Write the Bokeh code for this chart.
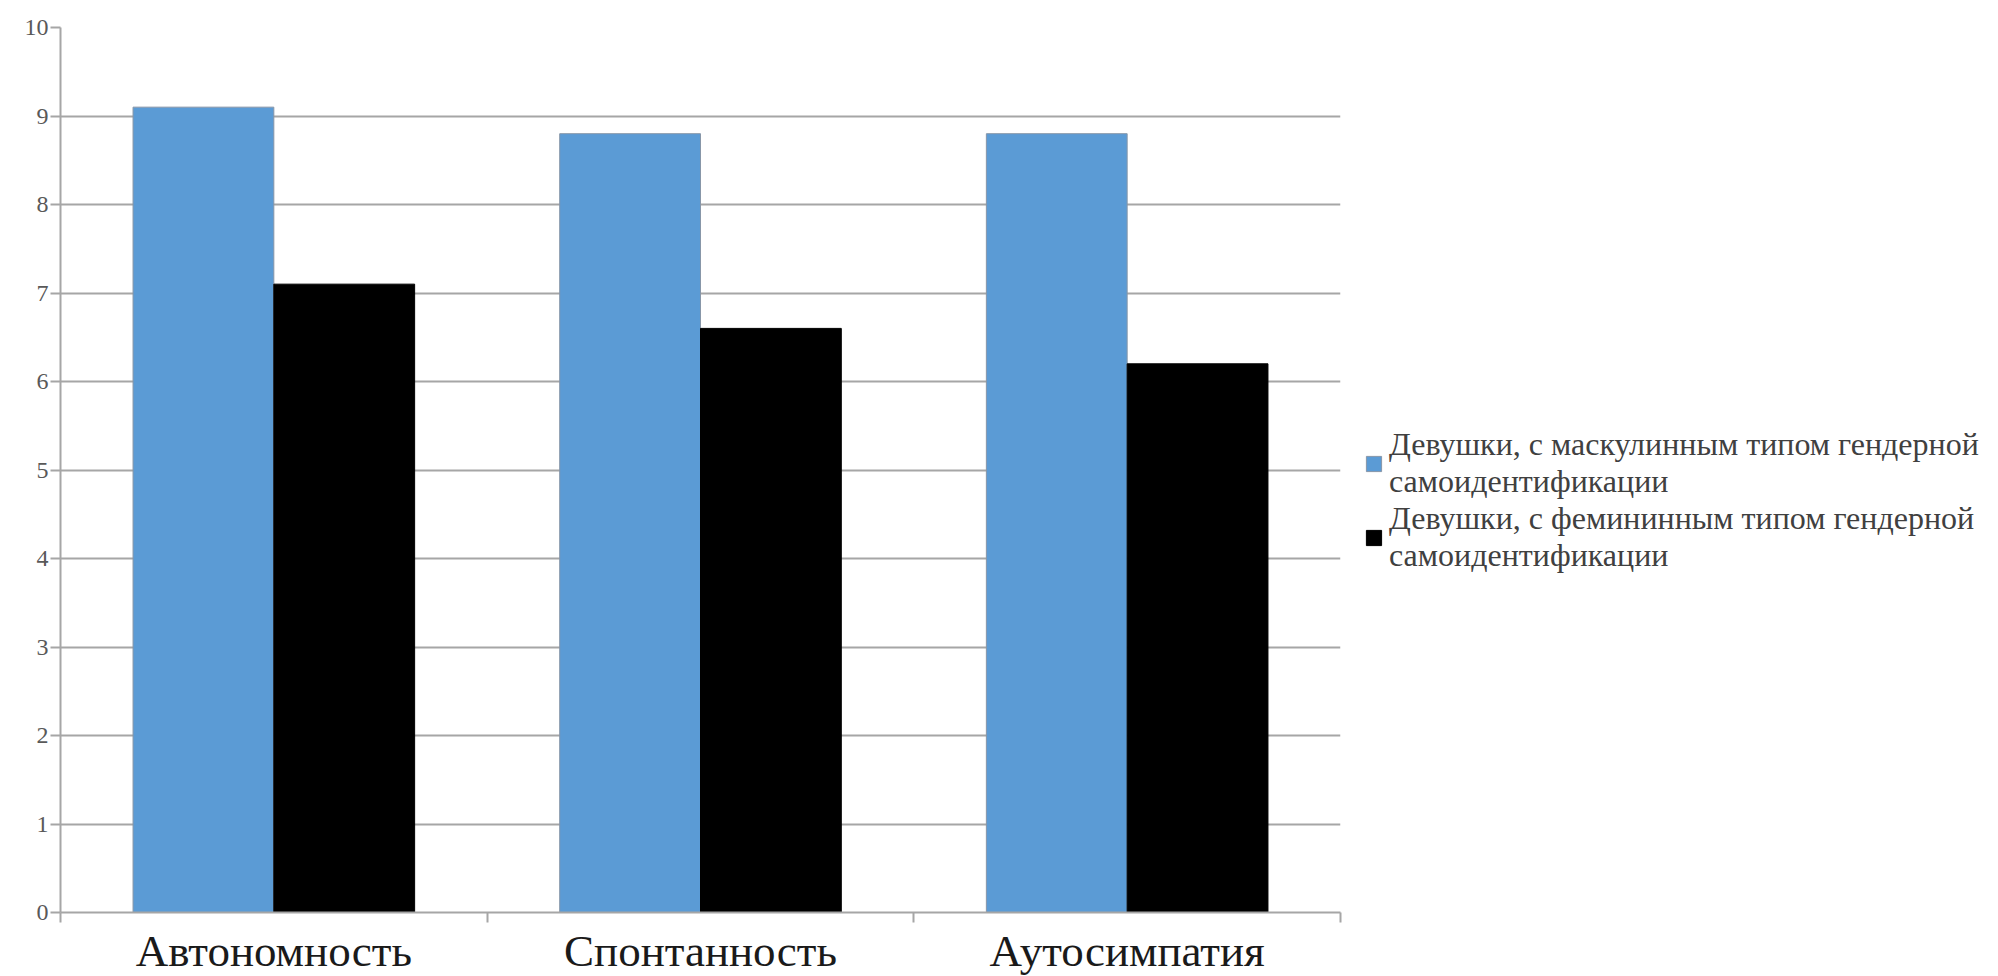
from bokeh.plotting import figure
from bokeh.models import FixedTicker, Legend, LegendItem, Range1d
from bokeh.embed import file_html
from bokeh.resources import INLINE

categories = ["Автономность", "Спонтанность", "Аутосимпатия"]
masc = [9.1, 8.8, 8.8]
fem = [7.1, 6.6, 6.2]
masc_label = "Девушки, с маскулинным типом гендерной\nсамоидентификации"
fem_label = "Девушки, с фемининным типом гендерной\nсамоидентификации"
y_ticks = list(range(0, 11))

BLUE = "#5b9bd5"
GRID = "#a6a6a6"
TEXT = "#404040"
SERIF = "Liberation Serif"

n = len(categories)
bar_w = 0.33
centers = [i + 0.5 for i in range(n)]
x_masc = [c - bar_w / 2 for c in centers]
x_fem = [c + bar_w / 2 for c in centers]

p = figure(frame_width=1280, frame_height=885,
           x_range=Range1d(0, n), y_range=Range1d(0, 10),
           output_backend="svg", toolbar_location=None,
           min_border_left=60, min_border_right=652,
           min_border_top=27, min_border_bottom=50)
p.outline_line_color = None
p.background_fill_color = "white"
p.border_fill_color = "white"

r_m = p.vbar(x=x_masc, top=masc, width=bar_w, fill_color=BLUE, line_color="#8796a8", line_width=1)
r_f = p.vbar(x=x_fem, top=fem, width=bar_w, fill_color="black", line_color="black", line_width=1)

# grid
p.xgrid.visible = False
p.ygrid.ticker = FixedTicker(ticks=y_ticks)
p.ygrid.grid_line_color = GRID
p.ygrid.grid_line_width = 2

# y axis
ya = p.yaxis[0]
ya.ticker = FixedTicker(ticks=y_ticks)
ya.axis_line_color = GRID
ya.axis_line_width = 2
ya.major_tick_line_color = GRID
ya.major_tick_line_width = 2
ya.major_tick_out = 10
ya.major_tick_in = 0
ya.minor_tick_line_color = None
ya.major_label_standoff = 2
ya.major_label_text_font = SERIF
ya.major_label_text_font_size = "24px"
ya.major_label_text_color = "#595959"

# x axis
xa = p.xaxis[0]
xa.ticker = FixedTicker(ticks=centers, minor_ticks=list(range(n + 1)))
xa.major_label_overrides = {c: lab for c, lab in zip(centers, categories)}
xa.axis_line_color = GRID
xa.axis_line_width = 2
xa.major_tick_out = 0
xa.major_tick_in = 0
xa.major_tick_line_color = None
xa.minor_tick_line_color = GRID
xa.minor_tick_line_width = 2
xa.minor_tick_out = 10
xa.minor_tick_in = 0
xa.major_label_standoff = 3
xa.major_label_text_font = SERIF
xa.major_label_text_font_size = "45px"
xa.major_label_text_color = "#1a1a1a"

legend = Legend(items=[
    LegendItem(label=masc_label, renderers=[r_m]),
    LegendItem(label=fem_label, renderers=[r_f]),
], location=(24, 338))
legend.label_text_font = SERIF
legend.label_text_font_size = "32px"
legend.label_text_color = TEXT
legend.label_text_line_height = 1.15
legend.glyph_width = 19
legend.glyph_height = 19
legend.label_standoff = 6
legend.label_height = 20
legend.spacing = 0
legend.padding = 0
legend.margin = 0
legend.border_line_color = None
legend.background_fill_alpha = 0
p.add_layout(legend, "right")

open("out.html", "w").write(file_html(p, INLINE))
